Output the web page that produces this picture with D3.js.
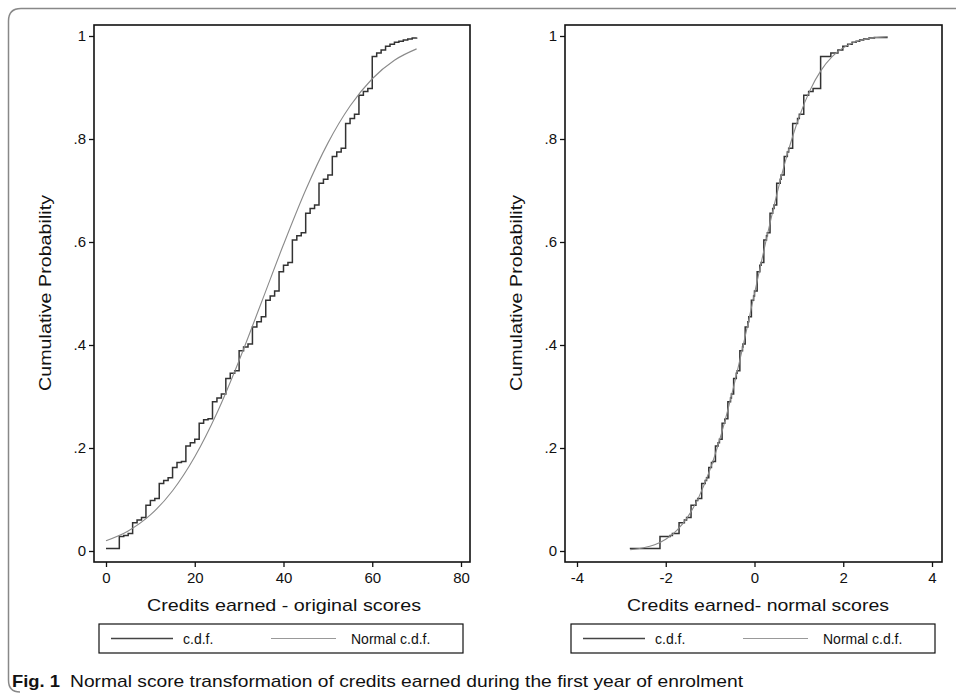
<!DOCTYPE html>
<meta charset="utf-8">
<script src="https://cdn.jsdelivr.net/npm/d3@7"></script>
<style>
body {margin: 0; background: #fff;}
svg text {font-family: "Liberation Sans", Arial, sans-serif; fill: #111;}
.frame {fill: none; stroke: #111; stroke-width: 1.6;}
.ecdf {fill: none; stroke: #333; stroke-width: 1.5;}
.norm {fill: none; stroke: #8a8a8a; stroke-width: 1.1;}
</style>
<div id="vis"></div>
<script>
// cumulative probability levels of the empirical c.d.f. (shared by both panels)
var cdfLevels = [0.005, 0.028, 0.030, 0.034, 0.055, 0.060, 0.065, 0.089, 0.098, 0.102,
  0.131, 0.137, 0.142, 0.162, 0.172, 0.174, 0.204, 0.210, 0.217, 0.248,
  0.255, 0.257, 0.290, 0.297, 0.305, 0.335, 0.345, 0.350, 0.389, 0.396,
  0.402, 0.435, 0.445, 0.455, 0.487, 0.495, 0.505, 0.542, 0.555, 0.560,
  0.604, 0.612, 0.618, 0.656, 0.665, 0.672, 0.714, 0.722, 0.730, 0.766,
  0.775, 0.782, 0.830, 0.840, 0.848, 0.885, 0.892, 0.898, 0.960, 0.967,
  0.973, 0.980, 0.984, 0.988, 0.990, 0.992, 0.994, 0.996, 0.997];

// credits earned where each step starts (left panel)
var credits = [0, 3, 4, 5, 6, 7, 8, 9, 10, 11, 12, 13, 14, 15, 16, 17, 18, 19, 20, 21,
  22, 23, 24, 25, 26, 27, 28, 29, 30, 31, 32, 33, 34, 35, 36, 37, 38, 39, 40, 41,
  42, 43, 44, 45, 46, 47, 48, 49, 50, 51, 52, 53, 54, 55, 56, 57, 58, 59, 60, 61,
  62, 63, 64, 65, 66, 67, 68, 69, 70];

// normal scores where each step starts (right panel)
var normalScores = [-2.81, -2.13, -1.90, -1.85, -1.70, -1.58, -1.53, -1.43, -1.32, -1.28,
  -1.19, -1.11, -1.08, -1.03, -0.97, -0.94, -0.88, -0.82, -0.79, -0.73,
  -0.67, -0.66, -0.60, -0.54, -0.52, -0.47, -0.41, -0.39, -0.33, -0.27,
  -0.26, -0.21, -0.15, -0.13, -0.07, -0.02, 0.00, 0.06, 0.12, 0.15,
  0.21, 0.27, 0.29, 0.35, 0.41, 0.44, 0.50, 0.58, 0.60, 0.67,
  0.74, 0.77, 0.86, 0.97, 1.01, 1.11, 1.22, 1.32, 1.49, 1.72,
  1.88, 1.99, 2.10, 2.20, 2.29, 2.37, 2.46, 2.58, 2.70];
var normalScoreMax = 3.0;

// fitted normal c.d.f., left panel
var normX1 = [0, 5, 10, 15, 20, 25, 30, 35, 40, 45, 50, 55, 60, 65, 70];
var normY1 = [0.020, 0.039, 0.070, 0.117, 0.183, 0.268, 0.370, 0.482, 0.595, 0.701, 0.792, 0.864, 0.917, 0.953, 0.975];

// standard normal c.d.f., right panel
var normX2 = [-2.8, -2.5, -2.25, -2, -1.75, -1.5, -1.25, -1, -0.75, -0.5, -0.25, 0, 0.25, 0.5, 0.75, 1, 1.25, 1.5, 1.75, 2, 2.25, 2.5, 2.75, 3];
var normY2 = [0.0026, 0.0062, 0.0122, 0.0228, 0.0401, 0.0668, 0.1056, 0.1587, 0.2266, 0.3085, 0.4013, 0.5, 0.5987, 0.6915, 0.7734, 0.8413, 0.8944, 0.9332, 0.9599, 0.9772, 0.9878, 0.9938, 0.9970, 0.9987];

var yTicks = [0, 0.2, 0.4, 0.6, 0.8, 1];
var yTickLabels = ["0", ".2", ".4", ".6", ".8", "1"];
var xTicks1 = [0, 20, 40, 60, 80];
var xTicks2 = [-4, -2, 0, 2, 4];

var width = 956, height = 693;

var svg = d3.select("#vis").append("svg")
    .attr("width", width)
    .attr("height", height);

// outer figure border
svg.append("path")
    .attr("d", "M956,8.5 H21 Q8.5,8.5 8.5,21 V680 Q8.5,692 20,692")
    .attr("fill", "none")
    .attr("stroke", "#888")
    .attr("stroke-width", 1.5);

var y = d3.scaleLinear().domain([0, 1]).range([551, 36]);

function panel(o) {
  var g = svg.append("g");
  var x = d3.scaleLinear().domain(o.xDomain).range(o.xRange);

  g.append("rect").attr("class", "frame")
      .attr("x", o.left).attr("y", 25)
      .attr("width", o.right - o.left).attr("height", 562 - 25);

  var yAxis = d3.axisLeft(y).tickValues(yTicks)
      .tickFormat(function(d, i) { return yTickLabels[i]; })
      .tickSize(5).tickPadding(3);
  var ya = g.append("g").attr("transform", "translate(" + o.left + ",0)").call(yAxis);
  ya.select(".domain").remove();
  ya.selectAll("line").attr("stroke", "#111").attr("stroke-width", 1.3);
  ya.selectAll("text").style("font-size", "15px").attr("fill", "#111");

  var xAxis = d3.axisBottom(x).tickValues(o.xTicks).tickFormat(d3.format("d")).tickSize(5).tickPadding(5);
  var xa = g.append("g").attr("transform", "translate(0,562)").call(xAxis);
  xa.select(".domain").remove();
  xa.selectAll("line").attr("stroke", "#111").attr("stroke-width", 1.3);
  xa.selectAll("text").style("font-size", "15px").attr("fill", "#111")
      .text(function(d) { return d < 0 ? "-" + Math.abs(d) : d; });

  // empirical c.d.f. as steps
  var steps = o.stepX.map(function(d, i) { return [d, cdfLevels[i]]; });
  steps.push([o.stepEnd, cdfLevels[cdfLevels.length - 1]]);
  g.append("path").attr("class", "ecdf")
      .attr("d", d3.line().curve(d3.curveStepAfter)
        .x(function(d) { return x(d[0]); })
        .y(function(d) { return y(d[1]); })(steps));

  // normal c.d.f.
  var nd = o.normX.map(function(d, i) { return [d, o.normY[i]]; });
  g.append("path").attr("class", "norm")
      .attr("d", d3.line().curve(d3.curveMonotoneX)
        .x(function(d) { return x(d[0]); })
        .y(function(d) { return y(d[1]); })(nd));

  // axis titles
  g.append("text")
      .attr("transform", "translate(" + (o.left - 43) + ",293) rotate(-90)")
      .attr("text-anchor", "middle")
      .attr("textLength", 196).attr("lengthAdjust", "spacingAndGlyphs")
      .style("font-size", "17px")
      .text("Cumulative Probability");
  g.append("text")
      .attr("x", o.titleX).attr("y", 611)
      .attr("text-anchor", "middle")
      .attr("textLength", o.titleLen).attr("lengthAdjust", "spacingAndGlyphs")
      .style("font-size", "17px")
      .text(o.title);

  // legend
  var lg = g.append("g");
  lg.append("rect").attr("x", o.leg[0]).attr("y", 624)
      .attr("width", o.leg[1] - o.leg[0]).attr("height", 29)
      .attr("fill", "none").attr("stroke", "#111").attr("stroke-width", 1.2);
  lg.append("line").attr("x1", o.leg[0] + 12).attr("x2", o.leg[0] + 74)
      .attr("y1", 638.5).attr("y2", 638.5).attr("stroke", "#444").attr("stroke-width", 1.5);
  lg.append("text").attr("x", o.leg[0] + 84).attr("y", 644).style("font-size", "14px").text("c.d.f.");
  lg.append("line").attr("x1", o.leg[0] + 172).attr("x2", o.leg[0] + 237)
      .attr("y1", 638.5).attr("y2", 638.5).attr("stroke", "#999").attr("stroke-width", 1.2);
  lg.append("text").attr("x", o.leg[0] + 252).attr("y", 644).style("font-size", "14px").text("Normal c.d.f.");
}

panel({
  left: 94, right: 470,
  xDomain: [0, 80], xRange: [106, 461], xTicks: xTicks1,
  stepX: credits, stepEnd: 70,
  normX: normX1, normY: normY1,
  title: "Credits earned - original scores", titleX: 284, titleLen: 274,
  leg: [99, 463]
});

panel({
  left: 565, right: 942,
  xDomain: [-4, 4], xRange: [577, 932], xTicks: xTicks2,
  stepX: normalScores, stepEnd: normalScoreMax,
  normX: normX2, normY: normY2,
  title: "Credits earned- normal scores", titleX: 758, titleLen: 262,
  leg: [571, 935]
});

// caption
svg.append("text").attr("x", 12).attr("y", 687).style("font-size", "17px")
    .style("font-weight", "bold")
    .attr("textLength", 48).attr("lengthAdjust", "spacingAndGlyphs")
    .text("Fig. 1");
svg.append("text").attr("x", 70).attr("y", 687).style("font-size", "17px")
    .attr("textLength", 673).attr("lengthAdjust", "spacingAndGlyphs")
    .text("Normal score transformation of credits earned during the first year of enrolment");
</script>
